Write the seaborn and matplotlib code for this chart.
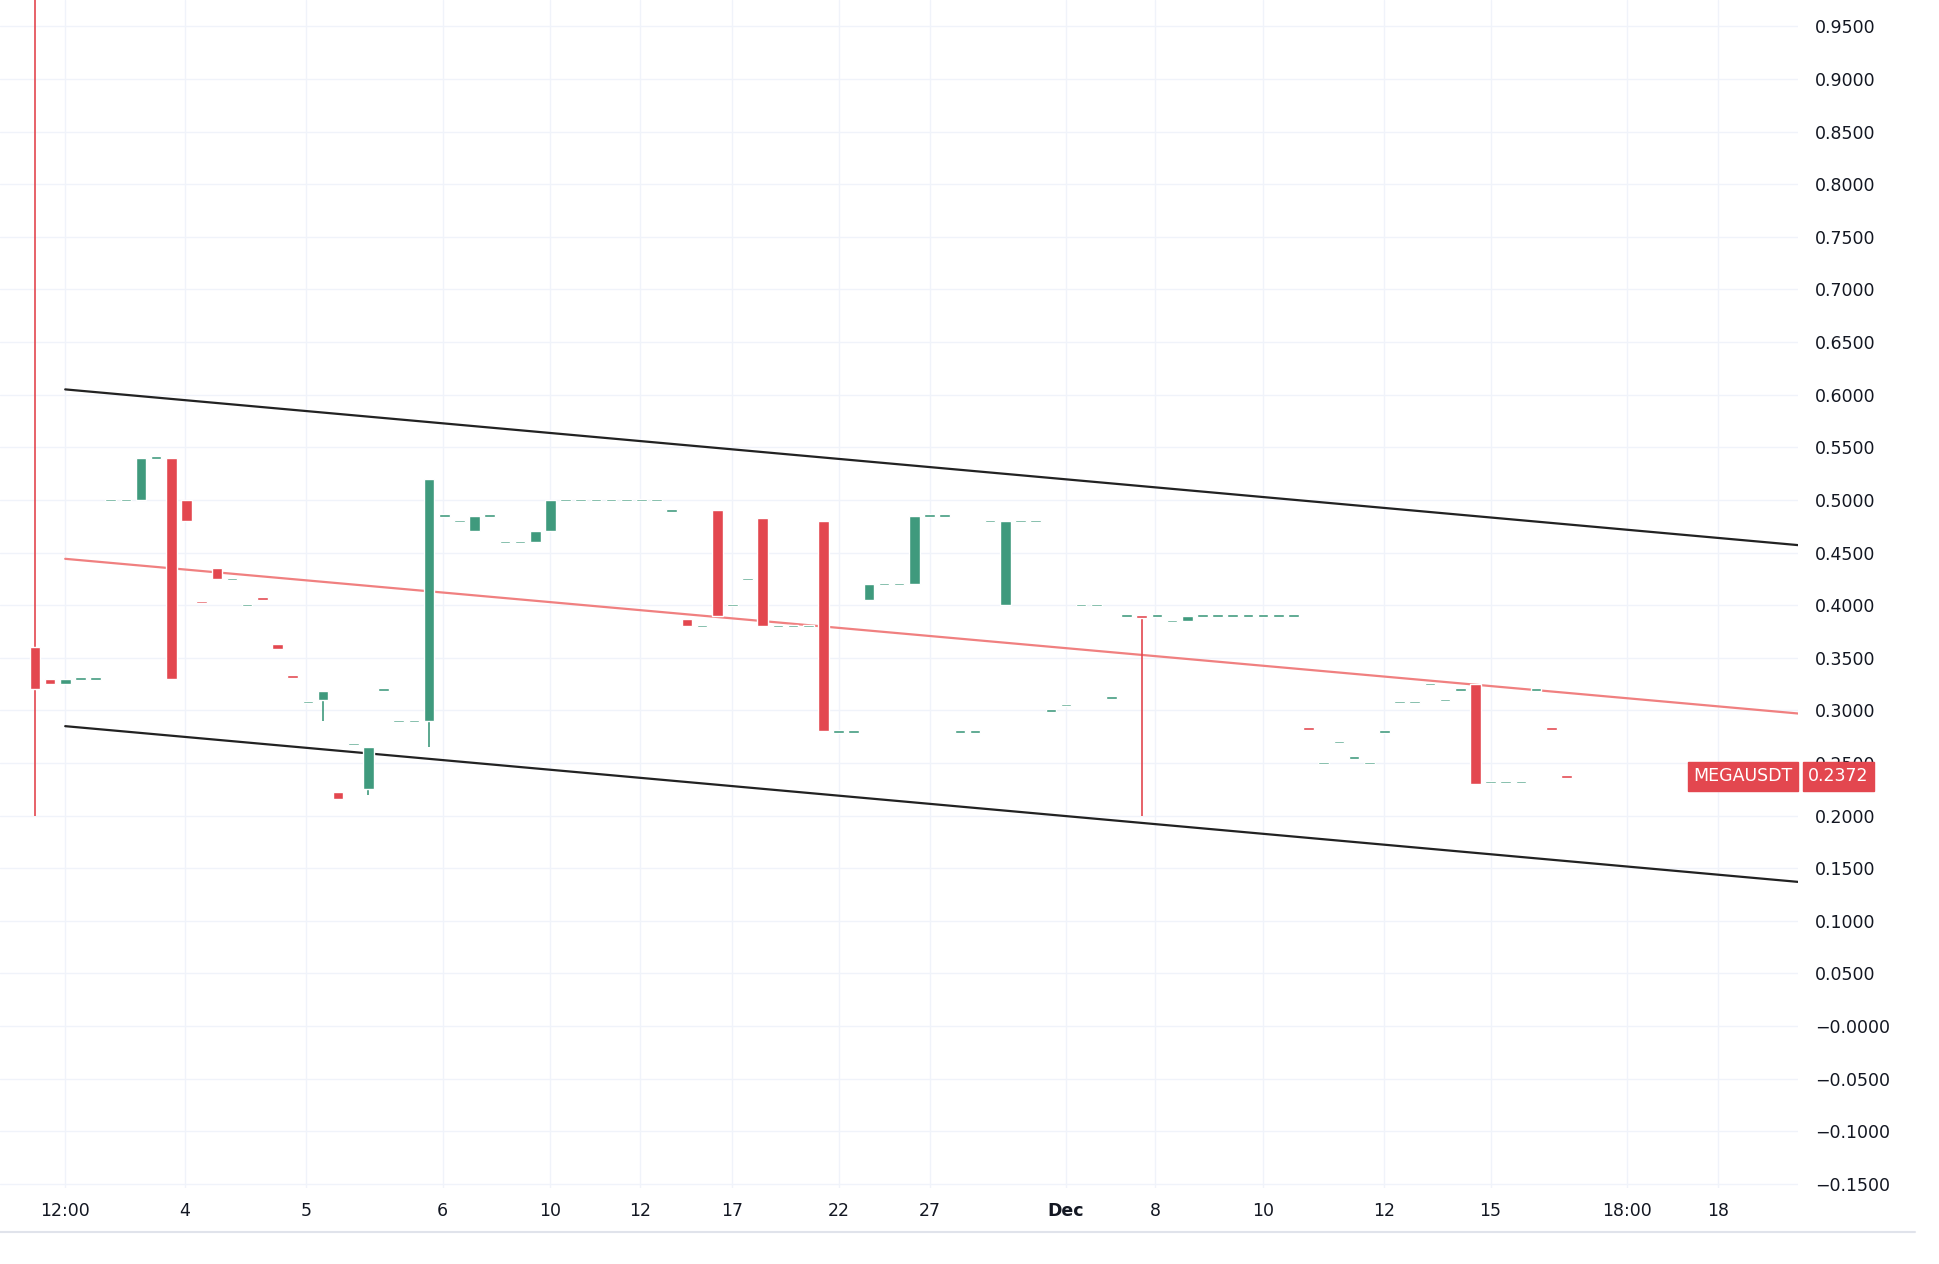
import matplotlib
matplotlib.use("Agg")
import matplotlib.pyplot as plt
import seaborn as sns
import numpy as np

sns.set_style("white")
plt.rcParams['font.family'] = ['DejaVu Sans']

# candle index, open, high, low, close
idx = [0,1,2,3,4,5,6,7,8,9,10,11,12,13,14,15,16,17,18,19,20,21,22,23,24,25,26,27,28,29,30,31,32,33,34,
       35,36,37,38,39,40,41,42,43,44,45,46,47,48,49,50,51,52,53,54,55,56,57,58,59,60,61,62,63,64,65,66,
       67,68,69,70,71,72,73,74,75,76,77,78,79,80,81,82,83,84,85,86,87,88,89,90,91,92,93,94,95,96,97,98,99,100,101]
opens = [0.36,0.33,0.325,0.33,0.33,0.50,0.50,0.50,0.54,0.54,0.50,0.403,0.435,0.425,0.40,0.408,0.363,0.332,0.308,0.31,0.222,0.268,0.225,0.32,0.29,0.29,0.29,0.485,0.48,0.47,0.485,0.46,0.46,0.46,0.47,
         0.50,0.50,0.50,0.50,0.50,0.50,0.50,0.49,0.387,0.38,0.49,0.40,0.425,0.483,0.38,0.38,0.38,0.48,0.28,0.28,0.405,0.42,0.42,0.42,0.485,0.485,0.28,0.28,0.48,0.40,0.48,0.48,
         0.30,0.305,0.40,0.40,0.312,0.39,0.39,0.39,0.385,0.385,0.39,0.39,0.39,0.39,0.39,0.39,0.39,0.283,0.25,0.27,0.255,0.25,0.28,0.308,0.308,0.325,0.31,0.32,0.325,0.232,0.232,0.232,0.32,0.283,0.237]
closes = [0.32,0.325,0.33,0.33,0.33,0.50,0.50,0.54,0.54,0.33,0.48,0.403,0.425,0.425,0.40,0.405,0.358,0.332,0.308,0.318,0.216,0.268,0.265,0.32,0.29,0.29,0.52,0.485,0.48,0.485,0.485,0.46,0.46,0.47,0.50,
          0.50,0.50,0.50,0.50,0.50,0.50,0.50,0.49,0.38,0.38,0.39,0.40,0.425,0.38,0.38,0.38,0.38,0.28,0.28,0.28,0.42,0.42,0.42,0.485,0.485,0.485,0.28,0.28,0.48,0.48,0.48,0.48,
          0.30,0.305,0.40,0.40,0.312,0.39,0.388,0.39,0.385,0.39,0.39,0.39,0.39,0.39,0.39,0.39,0.39,0.283,0.25,0.27,0.255,0.25,0.28,0.308,0.308,0.325,0.31,0.32,0.23,0.232,0.232,0.232,0.32,0.283,0.237]
highs = list(np.maximum(opens, closes)); lows = list(np.minimum(opens, closes))
highs[0] = 1.0; lows[0] = 0.20
lows[19] = 0.29; lows[22] = 0.22; lows[26] = 0.265
highs[73] = 0.39; lows[73] = 0.20
red_flat = {11,15,16,17,20,84,100,101,43}

tick_pos = [2,9.9,17.9,26.9,34,39.9,46,53,59,68,73.9,81,89,96,105,111]
tick_lab = ["12:00","4","5","6","10","12","17","22","27","Dec","8","10","12","15","18:00","18"]
upper = ([2,116.3],[0.605,0.457]); mid = ([2,116.3],[0.444,0.297]); lower = ([2,116.3],[0.285,0.137])
last_price = 0.2372

GREEN, RED = '#3f9a7d', '#e3474f'
fig = plt.figure(figsize=(19.4,12.64), dpi=100)
ax = fig.add_axes([0, 0.06, 0.927, 0.94])
for i,o,h,l,c in zip(idx,opens,highs,lows,closes):
    col = GREEN if c > o else RED
    if c == o and i not in red_flat: col = GREEN
    ax.vlines(i, l, h, color=col, lw=1.2, zorder=3)
    hgt = abs(c-o)
    ax.bar(i, max(hgt,0.0025), bottom=min(o,c) if hgt>0 else o-0.00125, width=0.7, color=col, zorder=4)
ax.plot(*upper, color='#222222', lw=1.6); ax.plot(*lower, color='#222222', lw=1.6)
ax.plot(*mid, color='#f08080', lw=1.6)
ax.set_xlim(-2.3,116.3); ax.set_ylim(-0.154,0.975)
yt = np.round(np.arange(-0.15,0.951,0.05),4)
ax.set_yticks(yt)
ax.set_yticklabels(["−0.0000" if v == 0 else f"{v:.4f}".replace("-","−") for v in yt])
ax.yaxis.tick_right()
ax.set_xticks(tick_pos); ax.set_xticklabels(tick_lab)
for lbl in ax.get_xticklabels():
    if lbl.get_text()=="Dec": lbl.set_fontweight('bold')
ax.tick_params(axis='y', length=0, labelsize=12.5, colors='#131722', pad=12)
ax.tick_params(axis='x', length=0, labelsize=12.5, colors='#131722', pad=10)
ax.grid(True, color='#f0f3fa', lw=1)
for s in ax.spines.values(): s.set_visible(False)
ax.annotate("0.2372", (1.0, last_price), xycoords=ax.get_yaxis_transform(), xytext=(7, 0),
            textcoords='offset points', ha='left', va='center', color='white', fontsize=12.5,
            bbox=dict(boxstyle='square,pad=0.3', fc=RED, ec=RED))
ax.annotate("MEGAUSDT", (1.0, last_price), xycoords=ax.get_yaxis_transform(), xytext=(-4, 0),
            textcoords='offset points', ha='right', va='center', color='white', fontsize=12.5,
            bbox=dict(boxstyle='square,pad=0.3', fc=RED, ec=RED))
fig.add_artist(plt.Line2D([0,0.987],[0.025,0.025], color='#e0e3eb', lw=1.5))
fig.savefig("out.png", dpi=100, facecolor='white')
